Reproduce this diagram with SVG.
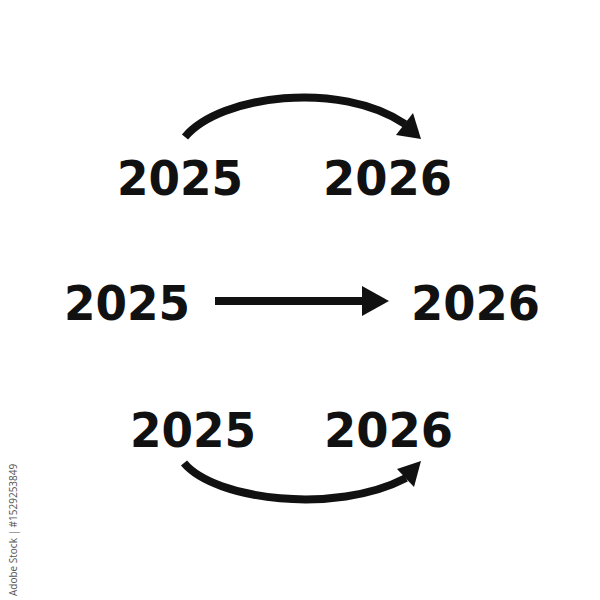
<svg xmlns="http://www.w3.org/2000/svg" width="600" height="600" viewBox="0 0 600 600">
<style>
.yr{font-family:"DejaVu Sans","Liberation Sans",sans-serif;font-weight:bold;font-size:48px;fill:#111}
.ln{fill:none;stroke:#111;stroke-width:8}
.hd{fill:#111}
.wm{font-family:"Open Sans","Liberation Sans",sans-serif;font-size:10px;fill:#555}
</style>
<rect width="600" height="600" fill="#fff"/>
<g id="top-2025"><text class="yr" x="117" y="195" textLength="126" lengthAdjust="spacingAndGlyphs">2025</text></g>
<g id="top-2026"><text class="yr" x="323" y="195" textLength="129" lengthAdjust="spacingAndGlyphs">2026</text></g>
<g id="mid-2025"><text class="yr" x="64" y="320" textLength="126" lengthAdjust="spacingAndGlyphs">2025</text></g>
<g id="mid-2026"><text class="yr" x="411" y="320" textLength="129" lengthAdjust="spacingAndGlyphs">2026</text></g>
<g id="bot-2025"><text class="yr" x="130" y="447" textLength="126" lengthAdjust="spacingAndGlyphs">2025</text></g>
<g id="bot-2026"><text class="yr" x="324" y="447" textLength="129" lengthAdjust="spacingAndGlyphs">2026</text></g>
<g id="connectors">
<path class="ln" d="M185,137 C220,95 340,80 405,124"/>
<polygon class="hd" points="421,139 396,135 413,113"/>
<path class="ln" d="M215,301 L366,301"/>
<polygon class="hd" points="362,286 389,301 362,316"/>
<path class="ln" d="M184,463 C215,500 335,515 406,478"/>
<polygon class="hd" points="421,461 414,487 397,469"/>
</g>
<text class="wm" transform="translate(17,596) rotate(-90)">Adobe Stock | #1529253849</text>
</svg>
